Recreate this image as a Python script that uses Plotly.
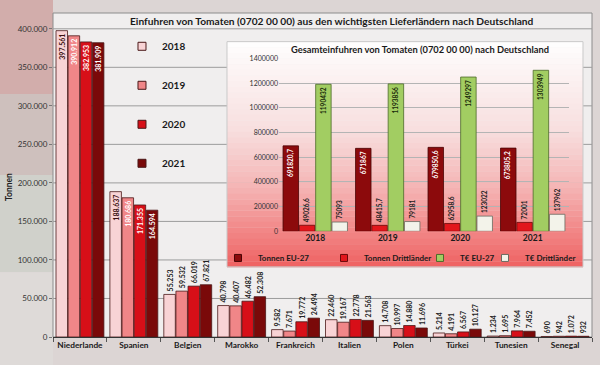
import plotly.graph_objects as go

# ---------------- data ----------------
countries = ["Niederlande", "Spanien", "Belgien", "Marokko", "Frankreich",
             "Italien", "Polen", "Türkei", "Tunesien", "Senegal"]
years = ["2018", "2019", "2020", "2021"]
t2018 = [397561, 188637, 55253, 40798, 9582, 22460, 14708, 5214, 1234, 690]
t2019 = [390912, 180686, 59532, 40407, 7671, 19167, 10997, 4191, 1695, 942]
t2020 = [382953, 171355, 66019, 46482, 19772, 22778, 14880, 6567, 7964, 1072]
t2021 = [381909, 164594, 67821, 52308, 24494, 21563, 11696, 10127, 7452, 932]
main_series = [t2018, t2019, t2020, t2021]
y_ticks = [0, 50000, 100000, 150000, 200000, 250000, 300000, 350000, 400000]

inset_years = ["2018", "2019", "2020", "2021"]
inset_names = ["Tonnen EU-27", "Tonnen Drittländer", "T€ EU-27", "T€ Drittländer"]
tonnen_eu = [691820.7, 671867, 679850.6, 673805.2]
tonnen_dritt = [49026.6, 48415.7, 62958.6, 72001]
teur_eu = [1190432, 1193856, 1249297, 1303949]
teur_dritt = [75093, 79181, 123022, 137962]
inset_series = [tonnen_eu, tonnen_dritt, teur_eu, teur_dritt]

# ---------------- styles ----------------
FONT = "Lato"
main_colors = ["#f8d3d5", "#f08688", "#d70f18", "#7a0909"]
main_inside_txt = ["#3a1010", "#ffffff", "#ffffff", "#ffffff"]
inset_colors = ["#8c0a0c", "#e2161c", "#a2cd62", "#f3f3ea"]
inset_lines = ["#4a0505", "#6a0808", "#4d6a2a", "#6a6a60"]
inset_pos = ["inside", "outside", "inside", "outside"]
inset_inside_txt = ["#ffffff", "#222222", "#1a2a0a", "#222222"]
inset_legend_x = [0.3061, 0.5028, 0.6809, 0.8015]


def de_int(v):
    return f"{int(v):,}".replace(",", ".")


def de_dec(v):
    if float(v).is_integer():
        return str(int(v))
    return str(v).replace(".", ",")


fig = go.Figure()

for i, (yr, vals) in enumerate(zip(years, main_series)):
    fig.add_trace(go.Bar(
        x=countries, y=vals, name=yr, showlegend=False,
        marker=dict(color=main_colors[i], line=dict(color="#4a1818", width=0.8)),
        text=[de_int(v) for v in vals],
        textposition=["inside" if v > 100000 else "outside" for v in vals],
        insidetextanchor="end",
        textangle=-90,
        constraintext="none",
        cliponaxis=False,
        insidetextfont=dict(family=FONT, size=7, color=main_inside_txt[i], weight="bold"),
        outsidetextfont=dict(family=FONT, size=7, color="#222222", weight="bold"),
        xaxis="x", yaxis="y",
        hoverinfo="skip",
    ))
    fig.add_trace(go.Scatter(
        x=[None], y=[None], mode="markers", name=yr,
        marker=dict(symbol="square", size=8, color=main_colors[i],
                    line=dict(color="#4a1818", width=1)),
        xaxis="x", yaxis="y", legend="legend", legendgroup=yr,
    ))

for i, (nm, vals) in enumerate(zip(inset_names, inset_series)):
    fig.add_trace(go.Bar(
        x=inset_years, y=vals, name=nm, showlegend=False,
        marker=dict(color=inset_colors[i], line=dict(color=inset_lines[i], width=0.8)),
        text=[de_dec(v) for v in vals],
        textposition=inset_pos[i],
        insidetextanchor="end",
        textangle=-90,
        constraintext="none",
        cliponaxis=False,
        insidetextfont=dict(family=FONT, size=6.5, color=inset_inside_txt[i], weight="bold"),
        outsidetextfont=dict(family=FONT, size=6.5, color="#222222", weight="bold"),
        xaxis="x2", yaxis="y2",
        hoverinfo="skip",
    ))
    fig.add_trace(go.Scatter(
        x=[None], y=[None], mode="markers", name=nm,
        marker=dict(symbol="square", size=7, color=inset_colors[i],
                    line=dict(color=inset_lines[i], width=1)),
        xaxis="x2", yaxis="y2", legend="legend%d" % (i + 2),
    ))

# ---------------- background shapes ----------------
shapes = []
margin_bands = [("#d2adab", 1.05, 0.75), ("#cec0bd", 0.75, 0.5),
                ("#d0d1cb", 0.5, 0.2), ("#dedad8", 0.2, -0.1)]
for col, y1, y0 in margin_bands:
    shapes.append(dict(type="rect", xref="paper", yref="paper", x0=-0.12, x1=0,
                       y0=y0, y1=y1, fillcolor=col, line=dict(width=0), layer="below"))
shapes.append(dict(type="rect", xref="paper", yref="paper", x0=0, x1=1, y0=0, y1=1,
                   fillcolor="#f0eeee", line=dict(color="#8c8c8c", width=1), layer="below"))
for v in y_ticks[1:]:
    shapes.append(dict(type="line", xref="paper", yref="y", x0=0, x1=1, y0=v, y1=v,
                       line=dict(color="#9c9c9c", width=1), layer="below"))
ix0, ix1, iy0, iy1 = 0.3228, 0.9833, 0.2165, 0.9116
stops = [(0.0, (255, 255, 255)), (0.4, (248, 222, 222)), (0.65, (245, 180, 180)),
         (0.85, (242, 133, 133)), (1.0, (239, 98, 98))]
N = 40
for k in range(N):
    t = (k + 0.5) / N
    for j in range(len(stops) - 1):
        if stops[j][0] <= t <= stops[j + 1][0]:
            a, ca = stops[j]
            b, cb = stops[j + 1]
            f = (t - a) / (b - a)
            c = tuple(int(ca[m] + (cb[m] - ca[m]) * f) for m in range(3))
            break
    ytop = iy1 - (iy1 - iy0) * k / N
    ybot = iy1 - (iy1 - iy0) * (k + 1) / N
    shapes.append(dict(type="rect", xref="paper", yref="paper", x0=ix0, x1=ix1,
                       y0=ybot - 0.001, y1=ytop, fillcolor="rgb(%d,%d,%d)" % c,
                       line=dict(width=0), layer="below"))
shapes.append(dict(type="rect", xref="paper", yref="paper", x0=ix0, x1=ix1, y0=iy0, y1=iy1,
                   fillcolor="rgba(0,0,0,0)", line=dict(color="#c9c9c9", width=1), layer="below"))

annotations = [
    dict(text="<b>Einfuhren von Tomaten (0702 00 00) aus den wichtigsten Lieferländern nach Deutschland</b>",
         xref="paper", yref="paper", x=0.139, y=0.9756, showarrow=False,
         font=dict(family=FONT, size=10.2, color="#1a1a1a"), xanchor="left", yanchor="middle"),
    dict(text="<b>Gesamteinfuhren von Tomaten (0702 00 00) nach Deutschland</b>",
         xref="paper", yref="paper", x=0.438, y=0.887, showarrow=False,
         font=dict(family=FONT, size=9.3, color="#1a1a1a"), xanchor="left", yanchor="middle"),
    dict(text="<b>Tonnen</b>", xref="paper", yref="paper", x=-0.0816, y=0.463,
         textangle=-90, showarrow=False, font=dict(family=FONT, size=8.5, color="#222222"),
         xanchor="center", yanchor="middle"),
]

layout = dict(
    width=600, height=365,
    margin=dict(l=53, r=8, t=9, b=28),
    paper_bgcolor="#dcd5d4",
    plot_bgcolor="rgba(0,0,0,0)",
    separators=",.",
    barmode="group", bargap=0.1, bargroupgap=0.05,
    font=dict(family=FONT, color="#222222"),
    shapes=shapes,
    annotations=annotations,
    xaxis=dict(domain=[0, 1], anchor="y", showgrid=False, showline=True, linecolor="#333333",
               ticks="outside", tickson="boundaries", ticklen=4, tickcolor="#555555",
               tickangle=0,
               tickfont=dict(family=FONT, size=8.3, color="#1a1a1a", weight="bold")),
    yaxis=dict(domain=[0, 1], anchor="x", range=[0, 420500], tickvals=y_ticks,
               tickformat=",d", showgrid=False, zeroline=False, showline=False,
               ticks="outside", ticklen=3, tickcolor="#777777",
               tickfont=dict(family=FONT, size=8, color="#333333")),
    xaxis2=dict(domain=[0.4193, 0.9573], anchor="y2", showgrid=False, showline=False,
                ticks="", tickangle=0,
                tickfont=dict(family=FONT, size=8.5, color="#1a1a1a", weight="bold")),
    yaxis2=dict(domain=[0.3262, 0.8598], anchor="x2", range=[0, 1400000], dtick=200000,
                tickformat="d", showgrid=True, gridcolor="#b4b4b4", zeroline=False,
                showline=False, tickfont=dict(family=FONT, size=7, color="#333333")),
    legend=dict(x=0.128, y=0.942, xanchor="left", yanchor="top", bgcolor="rgba(0,0,0,0)",
                font=dict(family=FONT, size=10, color="#1a1a1a", weight="bold"),
                tracegroupgap=20, itemsizing="trace"),
)
for i in range(4):
    layout["legend%d" % (i + 2)] = dict(
        x=inset_legend_x[i], y=0.244, xanchor="left", yanchor="middle",
        bgcolor="rgba(0,0,0,0)", itemsizing="trace",
        font=dict(family=FONT, size=8, color="#1a1a1a", weight="bold"))
fig.update_layout(**layout)

fig.write_html("out.html", config={"displayModeBar": False},
               post_script="document.body.style.margin='0';")
